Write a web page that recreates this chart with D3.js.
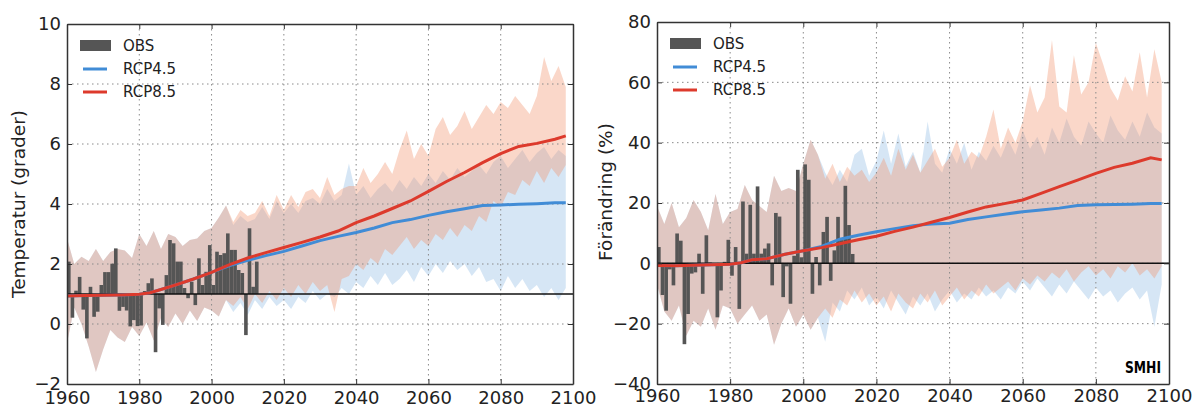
<!DOCTYPE html>
<html><head><meta charset="utf-8">
<script src="https://cdn.jsdelivr.net/npm/d3@7"></script>
<style>
body{margin:0;background:#fff;}
svg{display:block;}
text{font-family:"DejaVu Sans",sans-serif;fill:#222;}
</style>
</head><body>
<svg id="c" width="1194" height="407"></svg>
<script>
// ---------- DATA ----------
const xTicks = [1960, 1980, 2000, 2020, 2040, 2060, 2080, 2100];
const tempTicks = [-2, 0, 2, 4, 6, 8, 10];
const precTicks = [-40, -20, 0, 20, 40, 60, 80];
const legendLabels = ["OBS", "RCP4.5", "RCP8.5"];

const obsYears = [1960,1961,1962,1963,1964,1965,1966,1967,1968,1969,1970,1971,1972,1973,1974,1975,1976,1977,1978,1979,1980,1981,1982,1983,1984,1985,1986,1987,1988,1989,1990,1991,1992,1993,1994,1995,1996,1997,1998,1999,2000,2001,2002,2003,2004,2005,2006,2007,2008,2009,2010,2011,2012,2013];

const tempObs = [2.08,0.21,1.11,1.57,0.48,-0.48,1.24,0.24,0.41,1.3,
  1.73,1.73,2.01,2.52,0.44,0.57,0.45,-0.08,0.13,-0.07,
  -0.05,1.1,1.36,1.52,-0.94,0.52,-0.03,1.63,2.8,2.69,
  2.08,2.08,1.2,0.86,1.41,0.63,2.19,1.3,1.74,2.63,
  1.3,2.41,2.3,2.36,3.02,2.47,2.47,1.8,1.7,-0.37,
  3.19,1.24,2.08];

const precObs = [5.4,-10.5,-15.7,-2,-7.3,9.9,7.5,-26.8,-16.8,-3.4,
  -3,3.2,-10.1,9.3,0.3,-0.5,-17.9,-9,0.5,7.8,
  -4.1,5.4,-15.1,20.5,3.2,19.4,3.2,25.5,3.2,4.9,
  6.6,-7.3,16.7,15.5,-11.2,-1,-13.4,2.5,31,2,
  32.8,27.7,-10.1,2.1,-7.3,10.4,15.4,-5.8,4.3,15.4,
  7.7,25.7,12.7,3.1];

// ensemble spread, historical part (shared by both scenarios)
const histYears = [1960,1962,1964,1966,1968,1970,1972,1974,1976,1978,1980,1982,1984,1986,1988,1990,1992,1994,1996,1998,2000,2002,2004];
const tempHistHi = [2.86,2.0,2.24,2.1,2.5,2.1,2.4,2.5,2.45,2.2,3.0,2.6,3.1,2.5,3.0,2.9,2.6,2.8,2.85,3.1,3.2,3.55,3.95];
const tempHistLo = [-0.64,0.55,0.0,-0.75,-1.6,-0.85,-0.2,-0.45,-0.6,-0.1,-0.4,0.05,-0.55,0.2,-0.1,0.35,0.0,0.45,0.1,0.55,0.45,0.25,0.8];
const precHistHi = [19,13,20,12,15,21,17,11,23,13,17,18,26,21,19,17,29,24,25,24,33,41,36];
const precHistLo = [-7,-16,-19,-14,-24,-19,-21,-15,-22,-14,-15,-20,-17,-14,-19,-17,-27,-20,-15,-21,-17,-22,-18];

// ensemble spread, scenario part
const futYears = [2006,2008,2010,2012,2014,2016,2018,2020,2022,2024,2026,2028,2030,2032,2034,2036,2038,2040,2042,2044,2046,2048,2050,2052,2054,2056,2058,2060,2062,2064,2066,2068,2070,2072,2074,2076,2078,2080,2082,2084,2086,2088,2090,2092,2094,2096,2098];
const temp45Hi = [3.3,3.6,3.4,3.5,3.9,3.5,4.1,3.7,4.0,3.7, 4.1,4.2,4.0,4.5,4.1,4.3,5.35,4.3,4.6,4.2, 4.5,4.7,4.4,4.8,4.5,4.9,4.6,5.0,4.7,5.1, 4.8,5.2,4.9,5.1,5.3,5.0,5.4,5.6,5.2,5.5, 5.8,5.4,5.7,5.9,5.5,5.8,5.6];
const temp45Lo = [0.4,0.7,0.3,0.8,0.5,0.9,0.6,0.8,0.5,0.9, 0.7,1.1,0.8,1.0,0.9,1.2,1.0,1.4,1.2,1.6, 1.3,1.7,1.3,1.5,1.8,1.4,1.9,1.6,2.0,1.7, 2.1,1.8,2.0,1.6,1.9,1.4,1.5,1.1,1.6,1.2, 1.5,1.1,1.3,0.9,1.2,0.8,1.2];
const temp85Hi = [3.4,3.8,3.6,3.7,4.1,3.6,4.3,3.8,4.3,3.9, 4.4,4.5,4.2,4.9,4.3,4.5,4.6,4.6,5.2,4.7, 5.0,5.4,5.0,5.8,6.45,5.5,6.0,5.6,6.5,6.9, 6.3,6.6,7.1,6.5,6.9,7.3,7.0,7.4,7.2,7.6, 7.3,7.0,7.6,8.9,8.1,8.6,7.9];
const temp85Lo = [0.6,0.9,0.5,1.0,0.7,1.1,0.8,1.2,0.9,1.3, 1.0,1.4,1.1,1.3,0.4,1.5,1.6,2.0,1.8,2.2, 2.0,2.5,2.3,2.6,2.9,2.5,2.8,2.6,3.0,2.8, 3.2,2.9,3.3,3.1,3.6,3.4,4.1,3.9,4.4,4.3, 4.8,4.6,5.1,4.7,5.2,4.9,5.3];
const prec45Hi = [30,26,31,27,36,38,29,34,44,33, 43,32,37,30,47,33,30,38,33,40, 31,37,34,39,35,41,36,44,38,42, 36,45,40,48,42,39,47,43,40,49, 44,41,47,42,50,45,43];
const prec45Lo = [-26,-13,-16,-9,-12,-8,-14,-11,-15,-9, -13,-17,-11,-14,-10,-16,-12,-9,-13,-10, -12,-8,-11,-9,-12,-8,-10,-6,-9,-5, -8,-11,-7,-10,-6,-9,-12,-8,-11,-9, -13,-10,-8,-12,-9,-21,-7];
const prec85Hi = [28,33,27,32,29,31,27,30,35,29, 38,31,36,30,34,38,32,35,41,33, 37,35,42,51,38,45,40,47,59,50, 55,74,52,50,69,56,60,73,66,58, 54,62,57,70,55,71,60];
const prec85Lo = [-15,-18,-12,-14,-9,-13,-10,-14,-11,-16, -10,-13,-15,-10,-13,-9,-14,-11,-8,-12, -9,-11,-7,-10,-8,-6,-9,-5,-7,-4, -6,-3,-5,-2,-6,-3,-1,-4,-2,-5, -1,-3,0,-4,-2,-5,-1];

// ensemble means
const meanYears = [1960,1965,1970,1975,1980,1983,1986,1990,1995,2000,2005,2010,2015,2020,2025,2030,2035,2040,2045,2050,2055,2060,2065,2070,2075,2080,2085,2090,2095,2098];
const temp45Mean = [0.93,0.95,0.96,0.97,0.99,1.04,1.15,1.3,1.5,1.72,1.95,2.12,2.28,2.42,2.6,2.78,2.92,3.05,3.2,3.38,3.48,3.62,3.74,3.84,3.95,3.97,3.99,4.01,4.04,4.04];
const temp85Mean = [0.93,0.95,0.96,0.97,0.99,1.04,1.15,1.3,1.5,1.72,1.98,2.2,2.38,2.55,2.72,2.9,3.1,3.38,3.6,3.85,4.1,4.42,4.75,5.05,5.38,5.68,5.92,6.02,6.16,6.27];
const prec45Mean = [-0.7,-0.8,-0.6,-0.5,-0.3,0.2,1.2,1.5,3.0,4.2,5.6,8.0,9.3,10.5,11.5,12.5,13.0,13.3,14.5,15.4,16.3,17.1,17.7,18.3,19.2,19.4,19.5,19.6,19.8,19.8];
const prec85Mean = [-0.7,-0.8,-0.6,-0.5,-0.3,0.2,1.2,1.5,3.0,4.2,5.2,6.5,7.8,9.0,10.6,12.0,13.6,15.2,17.0,18.7,19.8,21.0,23.2,25.4,27.6,29.8,31.8,33.2,35.0,34.3];

// ---------- DRAWING ----------
const C = {
  band45: "#7fb0e0", band85: "#f0906a",
  line45: "#418cd6", line85: "#dd3a2c",
  obs: "#555555", frame: "#333333", grid: "#8a8a8a"
};
const svg = d3.select("#c");

function drawPanel(p) {
  const x = d3.scaleLinear().domain([1960, 2100]).range([p.x0, p.x1]);
  const y = d3.scaleLinear().domain([p.yTicks[0], p.yTicks[p.yTicks.length-1]]).range([p.y1, p.y0]);
  const clipId = "clip-" + p.id;
  svg.append("clipPath").attr("id", clipId).append("rect")
    .attr("x", p.x0).attr("y", p.y0).attr("width", p.x1 - p.x0).attr("height", p.y1 - p.y0);
  const plot = svg.append("g").attr("clip-path", `url(#${clipId})`);

  const years = histYears.concat(futYears);
  const b45 = years.map((yr, i) => ({year: yr,
    lo: i < histYears.length ? p.histLo[i] : p.lo45[i - histYears.length],
    hi: i < histYears.length ? p.histHi[i] : p.hi45[i - histYears.length]}));
  const b85 = years.map((yr, i) => ({year: yr,
    lo: i < histYears.length ? p.histLo[i] : p.lo85[i - histYears.length],
    hi: i < histYears.length ? p.histHi[i] : p.hi85[i - histYears.length]}));
  const area = d3.area().x(d => x(d.year)).y0(d => y(d.lo)).y1(d => y(d.hi));
  plot.append("path").datum(b45).attr("d", area).attr("fill", C.band45).attr("fill-opacity", 0.32);
  plot.append("path").datum(b85).attr("d", area).attr("fill", C.band85).attr("fill-opacity", 0.36);

  // grid
  const grid = plot.append("g").attr("stroke", C.grid).attr("stroke-width", 1).attr("stroke-dasharray", "1.5,3.5");
  grid.selectAll("line.v").data(xTicks.slice(1, -1)).join("line")
    .attr("x1", d => x(d)).attr("x2", d => x(d)).attr("y1", p.y0).attr("y2", p.y1);
  grid.selectAll("line.h").data(p.yTicks.slice(1, -1)).join("line")
    .attr("x1", p.x0).attr("x2", p.x1).attr("y1", d => y(d)).attr("y2", d => y(d));

  // observations
  const n = Math.min(p.obs.length, obsYears.length);
  const obsData = p.obs.slice(0, n).map((v, i) => ({year: obsYears[i], v}));
  plot.selectAll("rect.obs").data(obsData).join("rect")
    .attr("x", d => x(d.year)).attr("width", d => x(d.year + 1) - x(d.year))
    .attr("y", d => Math.min(y(d.v), y(p.base))).attr("height", d => Math.abs(y(d.v) - y(p.base)))
    .attr("fill", C.obs);

  // baseline
  plot.append("line").attr("x1", p.x0).attr("x2", p.x1).attr("y1", y(p.base)).attr("y2", y(p.base))
    .attr("stroke", "#111").attr("stroke-width", 1.5);

  // mean lines
  const line = d3.line().x(d => x(d[0])).y(d => y(d[1]));
  plot.append("path").datum(meanYears.map((yr, i) => [yr, p.mean45[i]])).attr("d", line)
    .attr("fill", "none").attr("stroke", C.line45).attr("stroke-width", 3);
  plot.append("path").datum(meanYears.map((yr, i) => [yr, p.mean85[i]])).attr("d", line)
    .attr("fill", "none").attr("stroke", C.line85).attr("stroke-width", 3);

  // axes (inward ticks on all four sides)
  const styleAxis = g => {
    g.selectAll(".domain").attr("stroke", C.frame).attr("stroke-width", 1.5);
    g.selectAll(".tick line").attr("stroke", C.frame).attr("stroke-width", 1);
    g.selectAll(".tick text").attr("fill", "#222").style("font-size", "18px").style("font-family", '"DejaVu Sans",sans-serif');
  };
  const fmt = d => d < 0 ? "\u2212" + Math.abs(d) : String(d);
  svg.append("g").attr("transform", `translate(0,${p.y1})`)
    .call(d3.axisBottom(x).tickValues(xTicks).tickSize(-5).tickSizeOuter(0).tickPadding(p.xPad).tickFormat(d3.format("d")))
    .call(styleAxis);
  svg.append("g").attr("transform", `translate(0,${p.y0})`)
    .call(d3.axisTop(x).tickValues(xTicks).tickSize(-5).tickSizeOuter(0).tickFormat(""))
    .call(styleAxis);
  svg.append("g").attr("transform", `translate(${p.x0},0)`)
    .call(d3.axisLeft(y).tickValues(p.yTicks).tickSize(-5).tickSizeOuter(0).tickPadding(6).tickFormat(fmt))
    .call(styleAxis);
  svg.append("g").attr("transform", `translate(${p.x1},0)`)
    .call(d3.axisRight(y).tickValues(p.yTicks).tickSize(-5).tickSizeOuter(0).tickFormat(""))
    .call(styleAxis);

  // y label
  svg.append("text").attr("transform", `translate(${p.labelX},${p.labelY}) rotate(-90)`)
    .attr("text-anchor", "middle").style("font-size", "18.5px").text(p.label);

  // legend
  const lg = svg.append("g").attr("transform", `translate(${p.x0 + 13},${p.y0 + 16})`);
  lg.append("rect").attr("x", 0).attr("y", 0).attr("width", 31).attr("height", 11).attr("fill", C.obs);
  lg.append("line").attr("x1", 3).attr("x2", 27).attr("y1", 29).attr("y2", 29).attr("stroke", C.line45).attr("stroke-width", 3);
  lg.append("line").attr("x1", 3).attr("x2", 27).attr("y1", 52).attr("y2", 52).attr("stroke", C.line85).attr("stroke-width", 3);
  [6, 29, 52].forEach((yy, i) => {
    lg.append("text").attr("x", 43).attr("y", yy).attr("dy", "0.36em").style("font-size", "15px").text(legendLabels[i]);
  });
}

drawPanel({id: "t", x0: 67, x1: 573, y0: 24, y1: 384, yTicks: tempTicks, base: 1,
  obs: tempObs, histHi: tempHistHi, histLo: tempHistLo,
  hi45: temp45Hi, lo45: temp45Lo, hi85: temp85Hi, lo85: temp85Lo,
  mean45: temp45Mean, mean85: temp85Mean,
  label: "Temperatur (grader)", labelX: 25, labelY: 204, xPad: 7});

drawPanel({id: "p", x0: 657, x1: 1169, y0: 22, y1: 384, yTicks: precTicks, base: 0,
  obs: precObs, histHi: precHistHi, histLo: precHistLo,
  hi45: prec45Hi, lo45: prec45Lo, hi85: prec85Hi, lo85: prec85Lo,
  mean45: prec45Mean, mean85: prec85Mean,
  label: "F\u00f6r\u00e4ndring (%)", labelX: 612, labelY: 192, xPad: 5});

// SMHI logo text
svg.append("text").attr("x", 1125).attr("y", 373).attr("textLength", 36).attr("lengthAdjust", "spacingAndGlyphs")
  .style("font-size", "15px").style("font-weight", "bold").attr("fill", "#000").style("fill", "#000").text("SMHI");
</script>
</body></html>
